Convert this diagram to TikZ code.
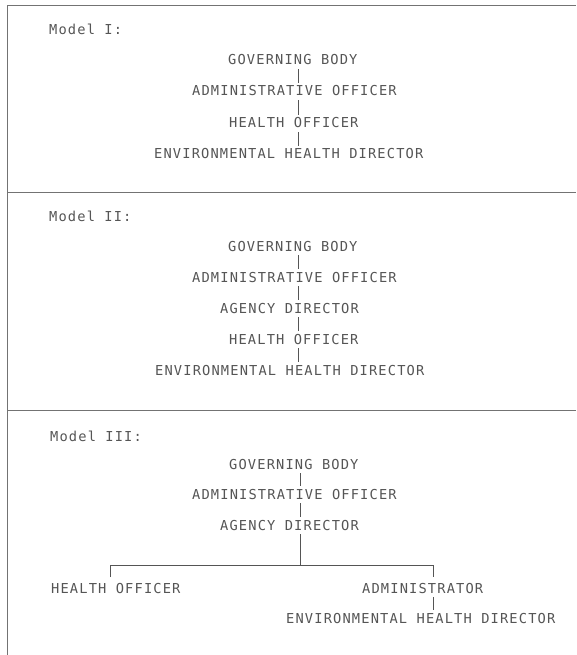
\documentclass[tikz,border=0pt]{standalone}
\usepackage{fontspec}
\newfontfamily\typer[LetterSpace=8.4]{DejaVu Sans Mono}
\definecolor{ink}{RGB}{85,85,85}
\definecolor{rule}{RGB}{115,115,115}
\begin{document}
\begin{tikzpicture}[x=1pt, y=-1pt,
    rank/.style ={anchor=west, inner sep=0pt, text height=10pt, text depth=0pt,
                  font=\typer\fontsize{13.7}{14}\selectfont, text=ink},
    heading/.style ={rank},
    link/.style ={draw=ink, line width=0.6pt, shorten <=4pt, shorten >=3pt},
    bar/.style ={draw=ink, line width=0.6pt},
    frame/.style ={draw=rule, line width=0.8pt}]
   \useasboundingbox (0,0) rectangle (576,655);
   \draw[frame] (7,655) -- (7,5) -- (576,5);
   \draw[frame] (7,192) -- (576,192);
   \draw[frame] (7,410) -- (576,410);

   % Model I
   \node[heading] (m1) at (49,30) {Model I:};
   \node[rank] (gb1) at (228,60)  {GOVERNING BODY};
   \node[rank] (ao1) at (192,91)  {ADMINISTRATIVE OFFICER};
   \node[rank] (ho1) at (229,123) {HEALTH OFFICER};
   \node[rank] (ed1) at (154,154) {ENVIRONMENTAL HEALTH DIRECTOR};
   \coordinate (s1) at (298,0);
   \draw[link] (gb1.south -| s1) to (ao1.north -| s1);
   \draw[link] (ao1.south -| s1) to (ho1.north -| s1);
   \draw[link] (ho1.south -| s1) to (ed1.north -| s1);

   % Model II
   \node[heading] (m2) at (49,216) {Model II:};
   \node[rank] (gb2) at (228,246) {GOVERNING BODY};
   \node[rank] (ao2) at (192,277) {ADMINISTRATIVE OFFICER};
   \node[rank] (ad2) at (220,308) {AGENCY DIRECTOR};
   \node[rank] (ho2) at (229,339) {HEALTH OFFICER};
   \node[rank] (ed2) at (155,370) {ENVIRONMENTAL HEALTH DIRECTOR};
   \coordinate (s2) at (298,0);
   \draw[link] (gb2.south -| s2) to (ao2.north -| s2);
   \draw[link] (ao2.south -| s2) to (ad2.north -| s2);
   \draw[link] (ad2.south -| s2) to (ho2.north -| s2);
   \draw[link] (ho2.south -| s2) to (ed2.north -| s2);

   % Model III
   \node[heading] (m3) at (50,436) {Model III:};
   \node[rank] (gb3) at (229,464) {GOVERNING BODY};
   \node[rank] (ao3) at (192,494) {ADMINISTRATIVE OFFICER};
   \node[rank] (ad3) at (220,525) {AGENCY DIRECTOR};
   \node[rank] (ho3) at (51,588)  {HEALTH OFFICER};
   \node[rank] (am3) at (362,588) {ADMINISTRATOR};
   \node[rank] (ed3) at (286,618) {ENVIRONMENTAL HEALTH DIRECTOR};
   \coordinate (s3) at (300,0);
   \coordinate (bl) at (110,565);
   \coordinate (br) at (433,565);
   \coordinate (tl) at (110,577);
   \coordinate (tr) at (433,577);
   \draw[link] (gb3.south -| s3) to (ao3.north -| s3);
   \draw[link] (ao3.south -| s3) to (ad3.north -| s3);
   \draw[link, shorten >=0pt] (ad3.south -| s3) to (bl -| s3);
   \draw[bar] (tl) -- (bl) -- (br) -- (tr);
   \draw[link] (am3.south -| br) to (ed3.north -| br);
 \end{tikzpicture}
\end{document}
